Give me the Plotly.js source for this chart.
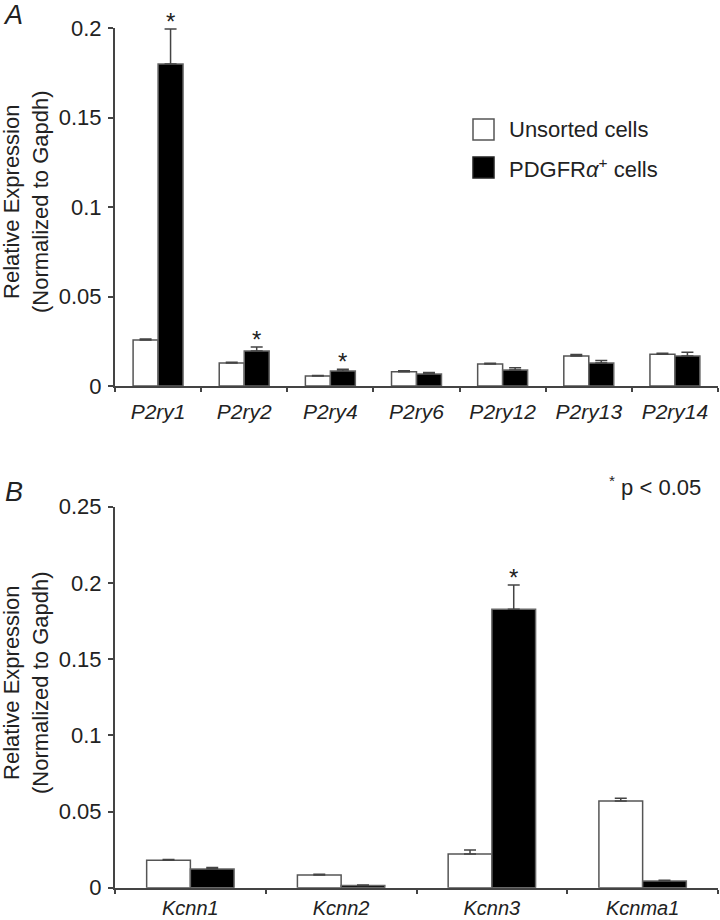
<!DOCTYPE html>
<html>
<head>
<meta charset="utf-8">
<script src="https://cdn.plot.ly/plotly-3.0.1.min.js"></script>
<style>
  html, body { margin: 0; padding: 0; background: #fff; }
  #chart { width: 720px; height: 920px; }
</style>
</head>
<body>
<div id="chart"></div>
<script>
// Panel A - P2ry receptors
const catsA = ['P2ry1', 'P2ry2', 'P2ry4', 'P2ry6', 'P2ry12', 'P2ry13', 'P2ry14'];
const unsortedA = [0.0257, 0.0128, 0.0056, 0.0080, 0.0123, 0.0168, 0.0177];
const unsortedErrA = [0.0006, 0.0005, 0.0003, 0.0005, 0.0004, 0.0008, 0.0006];
const pdgfrA = [0.1799, 0.0196, 0.0084, 0.0067, 0.0089, 0.0128, 0.0168];
const pdgfrErrA = [0.0195, 0.0022, 0.0010, 0.0008, 0.0013, 0.0015, 0.0020];
const sigA = [true, true, true, false, false, false, false];

// Panel B - SK / BK channels
const catsB = ['Kcnn1', 'Kcnn2', 'Kcnn3', 'Kcnma1'];
const unsortedB = [0.0180, 0.0083, 0.0221, 0.0569];
const unsortedErrB = [0.0005, 0.0005, 0.0026, 0.0018];
const pdgfrB = [0.0123, 0.0015, 0.1827, 0.0044];
const pdgfrErrB = [0.0010, 0.0003, 0.0159, 0.0005];
const sigB = [false, false, true, false];

const seriesNames = ['Unsorted cells', 'PDGFR<i>α</i><sup>+</sup> cells'];
const seriesFill = ['#fff', '#000'];

const W = 720, H = 920;
const FONT = 'Liberation Sans, Arial, Helvetica, sans-serif';
const TXT = '#222';
const AXIS = '#444';
const BARGAP = 0.42;
const xDom = [115 / W, 718 / W];

function barTrace(x, y, err, k, xa, ya) {
    return {
        type: 'bar',
        x: x,
        y: y,
        name: seriesNames[k],
        xaxis: xa,
        yaxis: ya,
        showlegend: false,
        marker: { color: seriesFill[k], line: { color: k ? '#666' : '#555', width: 1.5 } },
        error_y: {
            type: 'data', symmetric: false, array: err,
            arrayminus: err.map(() => 0),
            color: AXIS, thickness: 1.5, width: 6
        },
        hoverinfo: 'x+y'
    };
}

const data = [
    barTrace(catsA, unsortedA, unsortedErrA, 0, 'x', 'y'),
    barTrace(catsA, pdgfrA, pdgfrErrA, 1, 'x', 'y'),
    barTrace(catsB, unsortedB, unsortedErrB, 0, 'x2', 'y2'),
    barTrace(catsB, pdgfrB, pdgfrErrB, 1, 'x2', 'y2')
];

// asterisks above the black bars, shifted by half a bar width
function starNotes(cats, vals, errs, sig, xref, yref) {
    const catPx = (xDom[1] - xDom[0]) * W / cats.length;
    const shift = catPx * (1 - BARGAP) / 4;
    const out = [];
    cats.forEach((c, i) => {
        if (!sig[i]) return;
        out.push({
            xref: xref, yref: yref, x: c, y: vals[i] + errs[i],
            xshift: shift, yshift: -8, yanchor: 'bottom', xanchor: 'center',
            text: '*', showarrow: false,
            font: { family: FONT, size: 24, color: TXT }
        });
    });
    return out;
}

function yTitle(yc) {
    return {
        xref: 'paper', yref: 'paper', x: 26 / W, y: yc,
        xanchor: 'center', yanchor: 'middle',
        text: 'Relative Expression<br>(Normalized to Gapdh)',
        textangle: -90, showarrow: false,
        font: { family: FONT, size: 22, color: TXT }
    };
}

// legend drawn as squares + labels
const legShapes = [];
const legNotes = [];
seriesNames.forEach((nm, k) => {
    const top = 119 + k * 38;
    legShapes.push({
        type: 'rect', xref: 'paper', yref: 'paper',
        x0: 473 / W, x1: 494 / W, y0: 1 - (top + 21) / H, y1: 1 - top / H,
        fillcolor: seriesFill[k], line: { color: k ? '#222' : '#555', width: 1.5 }
    });
    legNotes.push({
        xref: 'paper', yref: 'paper', x: 507 / W, y: 1 - (top + 11) / H,
        xanchor: 'left', yanchor: 'middle', text: nm, showarrow: false,
        font: { family: FONT, size: 22, color: TXT }
    });
});

const xAxisCommon = {
    type: 'category',
    showline: true, linecolor: AXIS, linewidth: 2,
    ticks: 'outside', tickson: 'boundaries', ticklen: 4, tickwidth: 2, tickcolor: AXIS,
    ticklabelstandoff: 6,
    tickfont: { family: FONT, size: 21, color: TXT, style: 'italic' },
    showgrid: false, zeroline: false, fixedrange: true
};

const yAxisCommon = {
    showline: true, linecolor: AXIS, linewidth: 2,
    ticks: 'outside', ticklen: 5, tickwidth: 2, tickcolor: AXIS,
    ticklabelstandoff: 2,
    tickfont: { family: FONT, size: 22, color: TXT },
    showgrid: false, zeroline: false, fixedrange: true
};

const layout = {
    width: W,
    height: H,
    margin: { l: 0, r: 0, t: 0, b: 0 },
    paper_bgcolor: '#fff',
    plot_bgcolor: '#fff',
    barmode: 'group',
    bargap: BARGAP,
    bargroupgap: 0,
    showlegend: false,
    xaxis: Object.assign({}, xAxisCommon, { domain: xDom, anchor: 'y' }),
    yaxis: Object.assign({}, yAxisCommon, {
        domain: [1 - 386 / H, 1 - 28 / H], anchor: 'x',
        range: [0, 0.2], tickvals: [0, 0.05, 0.1, 0.15, 0.2],
        ticktext: ['0', '0.05', '0.1', '0.15', '0.2']
    }),
    xaxis2: Object.assign({}, xAxisCommon, {
        domain: xDom, anchor: 'y2', ticklabelstandoff: 1,
        tickfont: { family: FONT, size: 20, color: TXT, style: 'italic' }
    }),
    yaxis2: Object.assign({}, yAxisCommon, {
        domain: [1 - 887.7 / H, 1 - 506.7 / H], anchor: 'x2',
        range: [0, 0.25], tickvals: [0, 0.05, 0.1, 0.15, 0.2, 0.25],
        ticktext: ['0', '0.05', '0.1', '0.15', '0.2', '0.25']
    }),
    shapes: legShapes,
    annotations: [
        { xref: 'paper', yref: 'paper', x: 13 / W, y: 1 - 15 / H, xanchor: 'center', yanchor: 'middle',
          text: '<i>A</i>', showarrow: false, font: { family: FONT, size: 27, color: TXT } },
        { xref: 'paper', yref: 'paper', x: 14 / W, y: 1 - 492 / H, xanchor: 'center', yanchor: 'middle',
          text: '<i>B</i>', showarrow: false, font: { family: FONT, size: 27, color: TXT } },
        { xref: 'paper', yref: 'paper', x: 703 / W, y: 1 - 486 / H, xanchor: 'right', yanchor: 'middle',
          text: '<sup>*</sup> p &lt; 0.05', showarrow: false,
          font: { family: FONT, size: 22, color: TXT } },
        yTitle(1 - 202 / H),
        yTitle(1 - 683 / H)
    ]
        .concat(legNotes)
        .concat(starNotes(catsA, pdgfrA, pdgfrErrA, sigA, 'x', 'y'))
        .concat(starNotes(catsB, pdgfrB, pdgfrErrB, sigB, 'x2', 'y2'))
};

Plotly.newPlot('chart', data, layout, { displayModeBar: false, staticPlot: true });
</script>
</body>
</html>
